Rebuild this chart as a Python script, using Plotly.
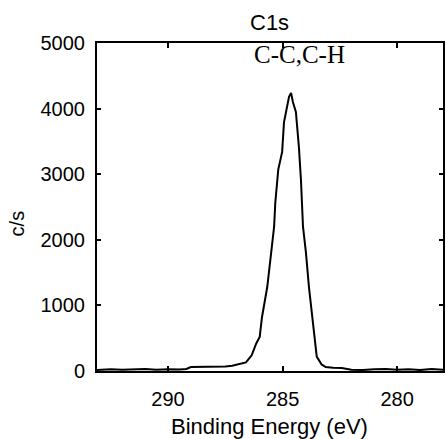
import plotly.graph_objects as go

# Binding energy (eV) and intensity (c/s)
energy = [293.1, 292.5, 292.0, 291.5, 291.0, 290.5, 290.0, 289.5, 289.2, 289.0,
          288.5, 288.0, 287.5, 287.2, 286.9, 286.6, 286.35, 286.15, 286.0, 285.9,
          285.67, 285.5, 285.37, 285.32, 285.19, 285.02, 284.94, 284.72, 284.63, 284.55,
          284.42, 284.29, 284.20, 284.11, 283.98, 283.85, 283.68, 283.51, 283.3, 283.12,
          282.8, 282.42, 282.0, 281.5, 281.0, 280.5, 280.0, 279.5, 279.0, 278.5, 278.0]
counts = [15, 25, 18, 22, 30, 20, 28, 22, 30, 60,
          62, 65, 70, 80, 100, 130, 240, 420, 520, 820,
          1280, 1800, 2200, 2560, 3070, 3340, 3790, 4180, 4240, 4100,
          3950, 3420, 2920, 2200, 1800, 1280, 780, 220, 100, 60,
          50, 45, 20, 15, 25, 30, 20, 25, 15, 30, 20]

x_ticks = [290, 285, 280]
y_ticks = [0, 1000, 2000, 3000, 4000, 5000]

font = "Liberation Sans, Arial, sans-serif"

fig = go.Figure()
fig.add_trace(go.Scatter(x=energy, y=counts, mode="lines",
                         line=dict(color="black", width=2), showlegend=False))

fig.update_layout(
    width=446, height=439,
    margin=dict(l=97, r=1, t=43, b=68),
    paper_bgcolor="white", plot_bgcolor="white",
    font=dict(family=font, size=20, color="black"),
    xaxis=dict(range=[293.1, 278.0], tickvals=x_ticks, ticks="inside", ticklen=5,
               tickwidth=1.5, tickcolor="black", showline=True, linecolor="black",
               linewidth=2, mirror="ticks", showgrid=False, zeroline=False,
               ticklabelstandoff=9),
    yaxis=dict(range=[0, 5000], tickvals=y_ticks, ticks="inside", ticklen=4,
               tickwidth=1.5, tickcolor="black", showline=True, linecolor="black",
               linewidth=2, mirror="ticks", showgrid=False, zeroline=False,
               ticklabelstandoff=6),
    annotations=[
        dict(text="C1s", x=0.498, y=1.0, xref="paper", yref="paper", yshift=21,
             yanchor="middle", showarrow=False, font=dict(size=22, family=font)),
        dict(text="C-C,C-H", x=0.585, y=1.0, xref="paper", yref="paper", yshift=-11,
             yanchor="middle", showarrow=False,
             font=dict(size=25, family="Liberation Serif, Times New Roman, serif")),
        dict(text="Binding Energy (eV)", x=0.498, y=0, xref="paper", yref="paper",
             yshift=-55, yanchor="middle", showarrow=False, font=dict(size=22, family=font)),
        dict(text="c/s", x=0, y=0.45, xref="paper", yref="paper", xshift=-80,
             textangle=-90, xanchor="center", yanchor="middle", showarrow=False,
             font=dict(size=20, family=font)),
    ],
)

fig.write_html("out.html")
